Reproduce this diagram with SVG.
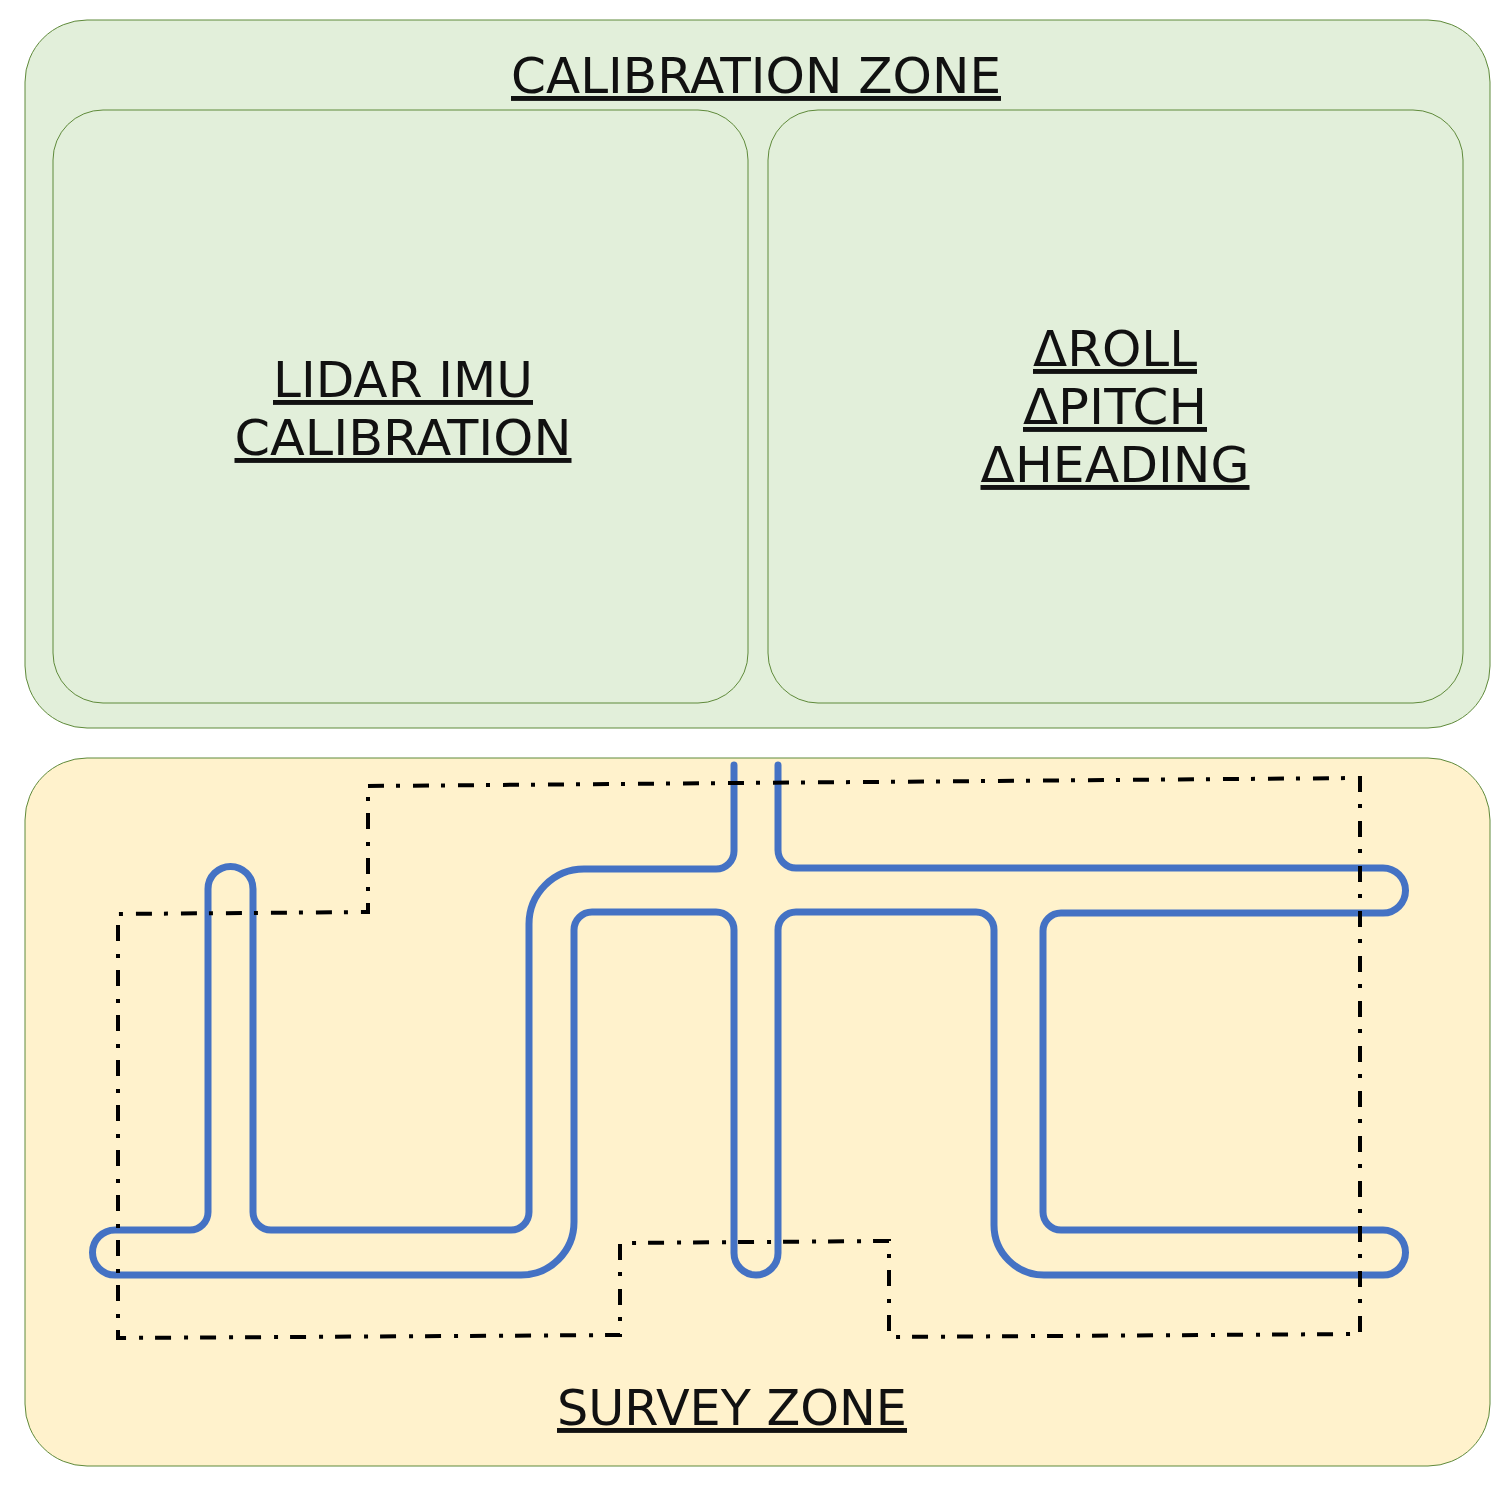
<svg xmlns="http://www.w3.org/2000/svg" width="1512" height="1512" viewBox="0 0 1512 1512">
<style>
.zone{stroke:#5f8a3a;stroke-width:1}
.cal{fill:#E2EFDA}
.sur{fill:#FFF2CC}
.lbl{font-family:"DejaVu Sans",sans-serif;font-size:49px;fill:#111;text-anchor:middle;text-decoration:underline}
.road{fill:none;stroke:#4472C4;stroke-width:7;stroke-linecap:round;stroke-linejoin:round}
.bound{fill:none;stroke:#000;stroke-width:4;stroke-dasharray:16 12 4 13}
</style>
<rect width="1512" height="1512" fill="#fff"/>
<g id="calibration-zone">
<rect class="zone cal" x="25" y="20" width="1465" height="708" rx="62"/>
<text class="lbl" x="756" y="93" textLength="490" lengthAdjust="spacingAndGlyphs">CALIBRATION ZONE</text>
</g>
<g id="lidar-imu-calibration">
<rect class="zone cal" x="53" y="110" width="695" height="593" rx="50"/>
<text class="lbl" x="403" y="397" textLength="260" lengthAdjust="spacingAndGlyphs">LIDAR IMU</text>
<text class="lbl" x="403" y="455" textLength="337" lengthAdjust="spacingAndGlyphs">CALIBRATION</text>
</g>
<g id="deltas">
<rect class="zone cal" x="768" y="110" width="695" height="593" rx="50"/>
<text class="lbl" x="1115" y="366" textLength="164" lengthAdjust="spacingAndGlyphs">ΔROLL</text>
<text class="lbl" x="1115" y="424" textLength="184" lengthAdjust="spacingAndGlyphs">ΔPITCH</text>
<text class="lbl" x="1115" y="482" textLength="269" lengthAdjust="spacingAndGlyphs">ΔHEADING</text>
</g>
<g id="survey-zone">
<rect class="zone sur" x="25" y="758" width="1465" height="708" rx="62"/>
<text class="lbl" x="732" y="1425" textLength="350" lengthAdjust="spacingAndGlyphs">SURVEY ZONE</text>
</g>
<g id="connectors">
<path class="road" d="M734,765 V851 A18,18 0 0 1 716,869 H584 A55,55 0 0 0 529,924 V1212 A18,18 0 0 1 511,1230 H271 A18,18 0 0 1 253,1212 V889 A22.5,22.5 0 0 0 208,889 V1212 A18,18 0 0 1 190,1230 H115 A22.5,22.5 0 0 0 115,1275 H521 A53,53 0 0 0 574,1222 V930 A18,18 0 0 1 592,912 H716 A18,18 0 0 1 734,930 V1253 A22,22 0 0 0 778,1253 V930 A18,18 0 0 1 796,912 H976 A18,18 0 0 1 994,930 V1225 A50,50 0 0 0 1044,1275 H1383 A22.5,22.5 0 0 0 1383,1230 H1061 A18,18 0 0 1 1043,1212 V931 A18,18 0 0 1 1061,913 H1383 A22.5,22.5 0 0 0 1383,868 H796 A18,18 0 0 1 778,850 V765"/>
<path class="bound" d="M368,786 L1360,778 L1360,1334 L889,1337 L889,1241 L620,1243 L620,1335 L118,1338 L118,914 L368,912 Z"/>
</g>
</svg>
